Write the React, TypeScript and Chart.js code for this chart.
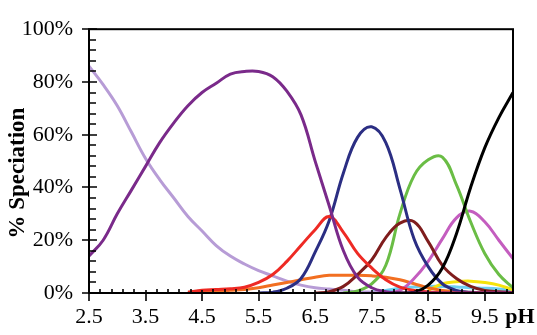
import { useEffect, useRef } from "react";
import { Chart, registerables } from "chart.js";

Chart.register(...registerables);

// pH grid (x values)
const pH = [
  2.5, 2.75, 3.0, 3.25, 3.5, 3.75, 4.0, 4.25, 4.5, 4.75, 5.0, 5.25, 5.5, 5.75, 6.0, 6.25,
  6.5, 6.75, 7.0, 7.25, 7.5, 7.75, 8.0, 8.25, 8.5, 8.75, 9.0, 9.25, 9.5, 9.75, 10.0,
];

const N = null;
// % speciation of each species
const darkPurple = [14, 20, 30, 39, 48, 57, 64.5, 71, 76, 79.5, 83, 84, 84, 82, 76.5, 67.5, 50, 33, 16, 6, 2, 0.5, 0, 0, 0, 0, 0, 0, 0, 0, 0];
const lavender = [86, 79, 71, 61, 51, 43, 36, 29, 23.5, 18, 14, 11, 8.5, 6.5, 4.5, 3, 2, 1.5, 1, 0.5, 0.3, 0.2, 0, N, N, N, N, N, N, N, N];
const red = [N, N, N, N, N, N, N, 0.3, 1, 1.3, 1.6, 2.2, 4, 7, 12, 18, 24, 29, 23, 15, 9.5, 5, 2.2, 1, 0.4, 0.1, 0, 0, 0, 0, 0];
const orange = [N, N, N, N, N, N, N, 0.3, 0.5, 0.7, 1, 1.3, 2, 3, 4, 5, 6, 6.7, 6.7, 6.7, 6.5, 6, 5, 3.5, 2, 1, 0.5, 0.2, 0, 0, 0];
const navy = [N, N, N, N, N, N, N, N, N, N, N, N, 0, 0.3, 1.8, 5.5, 15.5, 27.5, 45.5, 59, 63, 57, 39.5, 20.5, 10, 3.5, 1, 0.3, 0, 0, 0];
const maroon = [N, N, N, N, N, N, N, N, N, N, N, N, N, N, N, N, 0, 0.5, 2.5, 7, 12.5, 21, 26.5, 27, 19.5, 10.5, 5.5, 2.5, 1, 0.5, 0.2];
const green = [N, N, N, N, N, N, N, N, N, N, N, N, N, N, N, N, N, N, 0, 0.8, 3.5, 10.5, 30, 44.5, 50.5, 51.5, 41, 27, 15, 7, 2];
const pink = [N, N, N, N, N, N, N, N, N, N, N, N, N, N, N, N, N, N, N, N, N, 0, 1, 5.5, 12, 20.5, 28.5, 31, 27, 20, 13];
const black = [N, N, N, N, N, N, N, N, N, N, N, N, N, N, N, N, N, N, N, N, N, 0, 0, 0.3, 3, 9.5, 22.5, 40, 55, 66.5, 76];
const yellow = [N, N, N, N, N, N, N, N, N, N, N, N, N, N, N, N, N, N, N, N, N, N, N, N, 1, 3.5, 4.3, 4.5, 4, 3, 1.2];
const cyan = [N, N, N, N, N, N, N, N, N, N, N, N, N, N, N, N, N, N, N, N, 0.3, 1, 1.8, 2.3, 2.5, 2.5, 2.3, 2, 1.8, 1.5, 1];

// tick labels
const xTickValues = [2.5, 3.5, 4.5, 5.5, 6.5, 7.5, 8.5, 9.5];
const yTickValues = [0, 20, 40, 60, 80, 100];
const xAxisLabel = "pH";
const yAxisLabel = "% Speciation";

const FONT = '"Liberation Serif", Tinos, "Times New Roman", Times, serif';
const FS = 22;
const X_PAD = 11;

const series = [
  { data: darkPurple, color: "#7A2A8A" },
  { data: black, color: "#000000" },
  { data: red, color: "#EE2A24" },
  { data: navy, color: "#2B2E83" },
  { data: maroon, color: "#7F1D1D" },
  { data: green, color: "#6ABD45" },
  { data: pink, color: "#C45DBF" },
  { data: orange, color: "#F26F21" },
  { data: lavender, color: "#B79CD6" },
  { data: yellow, color: "#F4E30C" },
  { data: cyan, color: "#6CCFF0" },
];

const framePlugin = {
  id: "frame",
  afterDraw(chart: any) {
    const { ctx, chartArea, scales } = chart;
    const { left, right, top, bottom } = chartArea;
    const x = scales.x;
    const y = scales.y;
    ctx.save();
    ctx.strokeStyle = "#000";
    ctx.lineWidth = 2;
    ctx.strokeRect(left, top, right - left, bottom - top);
    ctx.lineWidth = 1.6;
    ctx.beginPath();
    for (const v of xTickValues) {
      const px = Math.round(x.getPixelForValue(v));
      ctx.moveTo(px, bottom - 3);
      ctx.lineTo(px, bottom + 8);
    }
    for (let k = 1; 2.5 + 0.2 * k < 10 - 1e-6; k++) {
      if (k % 5 === 0) continue;
      const px = Math.round(x.getPixelForValue(2.5 + 0.2 * k));
      ctx.moveTo(px, bottom);
      ctx.lineTo(px, bottom - 4);
    }
    for (const v of yTickValues) {
      const py = Math.round(y.getPixelForValue(v));
      ctx.moveTo(left - 7, py);
      ctx.lineTo(left + 8, py);
    }
    for (let k = 1; k < 25; k++) {
      if (k % 5 === 0) continue;
      const py = Math.round(y.getPixelForValue(4 * k));
      ctx.moveTo(left, py);
      ctx.lineTo(left + 7, py);
    }
    ctx.stroke();
    ctx.fillStyle = "#000";
    ctx.font = `bold ${FS}px ${FONT}`;
    ctx.textAlign = "center";
    ctx.textBaseline = "middle";
    ctx.fillText(xAxisLabel, x.getPixelForValue(10) + 7, bottom + X_PAD + (FS * 1.2) / 2);
    ctx.translate(18, (top + bottom) / 2 + 12);
    ctx.rotate(-Math.PI / 2);
    ctx.font = `bold 23px ${FONT}`;
    ctx.fillText(yAxisLabel, 0, 0);
    ctx.restore();
  },
};

export default function App() {
  const ref = useRef<HTMLCanvasElement>(null);
  useEffect(() => {
    if (!ref.current) return;
    let chart: Chart | null = null;
    let cancelled = false;
    const build = () => {
      if (cancelled || !ref.current) return;
      chart = new Chart(ref.current, {
        type: "line",
        data: {
          labels: pH,
          datasets: series.map((s) => ({
            data: s.data.map((v, i) => ({ x: pH[i], y: v })),
            borderColor: s.color,
            backgroundColor: s.color,
            borderWidth: 3,
            pointRadius: 0,
            fill: false,
            tension: 0.4,
            spanGaps: false,
          })),
        },
        options: {
          responsive: false,
          animation: false,
          devicePixelRatio: 1,
          layout: { padding: { top: 23, right: 24, left: 0, bottom: 0 } },
          plugins: { legend: { display: false }, tooltip: { enabled: false } },
          scales: {
            x: {
              type: "linear",
              min: 2.5,
              max: 10,
              grid: { display: false, drawTicks: false },
              border: { display: false },
              afterBuildTicks: (scale: any) => {
                scale.ticks = xTickValues.map((v) => ({ value: v }));
              },
              afterFit: (scale: any) => {
                scale.height = 42;
              },
              ticks: {
                autoSkip: false,
                maxRotation: 0,
                padding: X_PAD,
                color: "#000",
                font: { family: FONT, size: FS },
                callback: (v: any) => Number(v).toFixed(1),
              },
            },
            y: {
              min: 0,
              max: 100,
              grid: { display: false, drawTicks: false },
              border: { display: false },
              afterBuildTicks: (scale: any) => {
                scale.ticks = yTickValues.map((v) => ({ value: v }));
              },
              afterFit: (scale: any) => {
                scale.width = 89;
              },
              ticks: {
                autoSkip: false,
                padding: 16,
                color: "#000",
                font: { family: FONT, size: FS },
                callback: (v: any) => `${v}%`,
              },
            },
          },
        },
        plugins: [framePlugin],
      });
    };
    const fonts: any = (document as any).fonts;
    if (fonts && fonts.load) {
      Promise.all([
        fonts.load(`${FS}px "Liberation Serif"`),
        fonts.load(`bold ${FS}px "Liberation Serif"`),
      ])
        .catch(() => {})
        .then(build);
    } else {
      build();
    }
    return () => {
      cancelled = true;
      if (chart) chart.destroy();
    };
  }, []);
  return (
    <div style={{ position: "fixed", left: 0, top: 0, width: 537, height: 335, background: "#fff" }}>
      <canvas ref={ref} width={537} height={335} />
    </div>
  );
}
